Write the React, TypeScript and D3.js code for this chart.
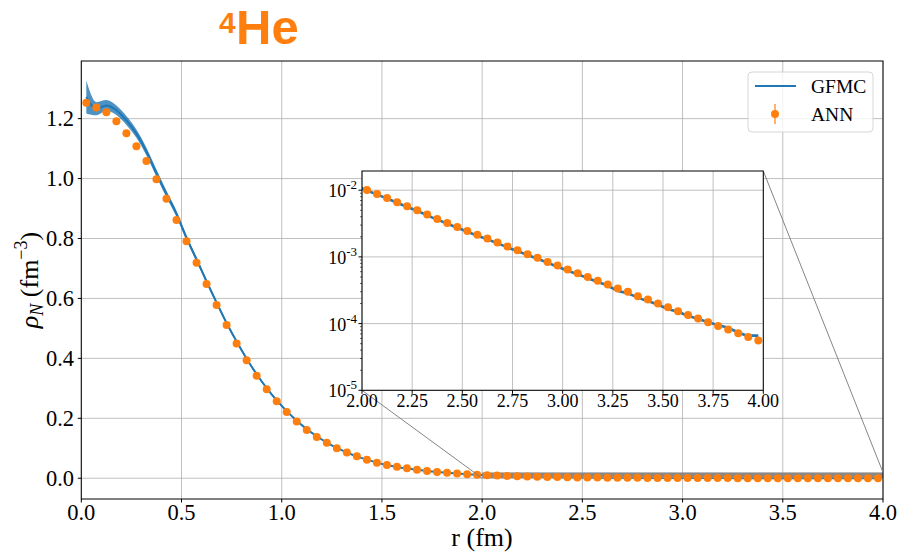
import React from "react";
import * as d3 from "d3";

// radial grid of the ANN points (fm)
const rPoints = d3.range(80).map((i) => +(0.025 + 0.05 * i).toFixed(3));

// ANN density (fm^-3)
const annValues = [
  1.253, 1.237, 1.221, 1.191, 1.151, 1.108, 1.059, 0.998, 0.933, 0.862,
  0.791, 0.719, 0.648, 0.578, 0.511, 0.45, 0.394, 0.342, 0.297, 0.257,
  0.221, 0.189, 0.161, 0.138, 0.118, 0.1, 0.086, 0.073, 0.062, 0.052,
  0.044, 0.038, 0.033, 0.0285, 0.0245, 0.021, 0.018, 0.0155, 0.0134, 0.0116,
  0.0101, 0.0088, 0.00767, 0.0066, 0.00575, 0.005, 0.00432, 0.00371, 0.00323, 0.00281,
  0.00245, 0.00214, 0.00189, 0.00164, 0.00143, 0.00126, 0.0011, 0.00097, 0.00084, 0.00074,
  0.00065, 0.00057, 0.0005, 0.00044, 0.000385, 0.000335, 0.000299, 0.000257, 0.000229, 0.0002,
  0.000176, 0.000153, 0.000135, 0.000119, 0.000105, 0.0000922, 0.0000813, 0.0000716, 0.0000631, 0.0000556,
];

// GFMC density and its statistical error
const gfmcValues = [
  1.272, 1.233, 1.244, 1.228, 1.194, 1.15, 1.09, 1.018, 0.948, 0.882,
  0.802, 0.73, 0.657, 0.586, 0.518, 0.456, 0.399, 0.347, 0.301, 0.26,
  0.224, 0.192, 0.164, 0.14, 0.119, 0.101, 0.086, 0.073, 0.062, 0.052,
  0.044, 0.0375, 0.0325, 0.0282, 0.0243, 0.0209, 0.018, 0.0155, 0.0134, 0.0116,
  0.0099, 0.0086, 0.0075, 0.0065, 0.0056, 0.0049, 0.0042, 0.00362, 0.00315, 0.00274,
  0.00238, 0.00208, 0.00183, 0.0016, 0.00139, 0.00122, 0.00107, 0.00094, 0.00082, 0.00071,
  0.00062, 0.00055, 0.00048, 0.00042, 0.00037, 0.00031, 0.000285, 0.000245, 0.000218, 0.000192,
  0.000166, 0.00015, 0.000131, 0.000117, 0.000105, 0.000095, 0.000086, 0.000074, 0.000066, 0.000066,
];
const gfmcErrors = [
  0.055, 0.022, 0.018, 0.016, 0.015, 0.014, 0.013, 0.012, 0.011, 0.01,
  0.009, 0.008, 0.007, 0.006, 0.005, 0.005, 0.004, 0.004, 0.003, 0.003,
  0.003, 0.002, 0.002, 0.002, 0.002, 0.002, 0.001, 0.001, 0.001, 0.001,
  0.001, 0.001, 0.001, 0.001, 0.001, 0.001, 0.001, 0.001, 0.001, 0.001,
  0.001, 0.001, 0.001, 0.001, 0.001, 0.001, 0.001, 0.001, 0.001, 0.001,
  0.001, 0.001, 0.001, 0.001, 0.001, 0.001, 0.001, 0.001, 0.001, 0.001,
  0.001, 0.001, 0.001, 0.001, 0.001, 0.001, 0.001, 0.001, 0.001, 0.001,
  0.001, 0.001, 0.001, 0.001, 0.001, 0.001, 0.001, 0.001, 0.001, 0.001,
];

const xTicks = [0, 0.5, 1, 1.5, 2, 2.5, 3, 3.5, 4];
const yTicks = [0, 0.2, 0.4, 0.6, 0.8, 1.0, 1.2];
const insetXTicks = [2, 2.25, 2.5, 2.75, 3, 3.25, 3.5, 3.75, 4];
const insetYExponents = [-5, -4, -3, -2];

const BLUE = "#1f77b4";
const ORANGE = "#ff7f0e";
const GRID = "#b0b0b0";
const SERIF = "'Liberation Serif', 'Times New Roman', serif";

export default function App() {
  const M = { left: 81.3, right: 883, top: 61, bottom: 499 };
  const I = { left: 362, right: 763.3, top: 171, bottom: 390.3 };

  const x = d3.scaleLinear().domain([0, 4]).range([M.left, M.right]);
  const y = d3.scaleLinear().domain([-0.0693, 1.3923]).range([M.bottom, M.top]);
  const ix = d3.scaleLinear().domain([2, 4]).range([I.left, I.right]);
  const iy = d3.scaleLog().domain([1e-5, 0.0194]).range([I.bottom, I.top]);

  const idx = d3.range(rPoints.length);
  const line = d3
    .line<number>()
    .x((i) => x(rPoints[i]))
    .y((i) => y(gfmcValues[i]))
    .curve(d3.curveMonotoneX);
  const band = d3
    .area<number>()
    .x((i) => x(rPoints[i]))
    .y0((i) => y(gfmcValues[i] - gfmcErrors[i]))
    .y1((i) => y(gfmcValues[i] + gfmcErrors[i]))
    .curve(d3.curveMonotoneX);
  const insetIdx = idx.filter((i) => rPoints[i] > 1.9);
  const insetLine = d3
    .line<number>()
    .x((i) => ix(rPoints[i]))
    .y((i) => iy(gfmcValues[i]))
    .curve(d3.curveMonotoneX);

  // minor log ticks on the inset y axis
  const minorTicks: number[] = [];
  insetYExponents.forEach((e) => {
    for (let k = 2; k <= 9; k++) minorTicks.push(k * Math.pow(10, e));
  });

  return (
    <svg width={900} height={552} style={{ display: "block", position: "absolute", left: 0, top: 0 }}>
      <defs>
        <clipPath id="mainClip">
          <rect x={M.left} y={M.top} width={M.right - M.left} height={M.bottom - M.top} />
        </clipPath>
        <clipPath id="insetClip">
          <rect x={I.left} y={I.top} width={I.right - I.left} height={I.bottom - I.top} />
        </clipPath>
      </defs>
      <rect width={900} height={552} fill="#fff" />

      {/* title */}
      <text fontFamily="'Liberation Sans', Arial, sans-serif" fontWeight="bold" fill={ORANGE}>
        <tspan x={219} y={33} fontSize={30}>4</tspan>
        <tspan x={236} y={44} fontSize={49}>He</tspan>
      </text>

      {/* main grid */}
      <g stroke={GRID} strokeWidth={0.8}>
        {xTicks.map((t) => (
          <line key={"gx" + t} x1={x(t)} x2={x(t)} y1={M.top} y2={M.bottom} />
        ))}
        {yTicks.map((t) => (
          <line key={"gy" + t} x1={M.left} x2={M.right} y1={y(t)} y2={y(t)} />
        ))}
      </g>

      <g clipPath="url(#mainClip)">
        <path d={band(idx) || ""} fill={BLUE} fillOpacity={0.8} />
        <path d={line(idx) || ""} fill="none" stroke={BLUE} strokeWidth={2} />
        <rect
          x={x(2)}
          y={y(0.0194)}
          width={x(4) - x(2)}
          height={y(1e-5) - y(0.0194)}
          fill="#888"
        />
        {idx.map((i) => (
          <circle key={"d" + i} cx={x(rPoints[i])} cy={y(annValues[i])} r={4} fill={ORANGE} />
        ))}
      </g>

      {/* main frame and ticks */}
      <rect x={M.left} y={M.top} width={M.right - M.left} height={M.bottom - M.top} fill="none" stroke="#000" strokeWidth={1} />
      <g fontFamily={SERIF} fontSize={22.5} fill="#000">
        {xTicks.map((t) => (
          <g key={"xt" + t}>
            <line x1={x(t)} x2={x(t)} y1={M.bottom} y2={M.bottom + 3.5} stroke="#000" />
            <text x={x(t)} y={520} textAnchor="middle">{d3.format(".1f")(t)}</text>
          </g>
        ))}
        {yTicks.map((t) => (
          <g key={"yt" + t}>
            <line x1={M.left - 3.5} x2={M.left} y1={y(t)} y2={y(t)} stroke="#000" />
            <text x={74} y={y(t) + 7.5} textAnchor="end">{d3.format(".1f")(t)}</text>
          </g>
        ))}
      </g>
      <text x={482} y={546} textAnchor="middle" fontFamily={SERIF} fontSize={26}>r (fm)</text>
      <text
        transform={`translate(38,${(M.top + M.bottom) / 2}) rotate(-90)`}
        textAnchor="middle"
        fontFamily={SERIF}
        fontSize={26}
      >
        <tspan fontStyle="italic">ρ</tspan>
        <tspan fontStyle="italic" fontSize={18} dy={5}>N</tspan>
        <tspan dy={-5}> (fm</tspan>
        <tspan fontSize={18} dy={-11}>−3</tspan>
        <tspan dy={11}>)</tspan>
      </text>

      {/* zoom connectors */}
      <g stroke="#777" strokeWidth={0.9}>
        <line x1={I.left} y1={I.bottom} x2={x(2)} y2={y(1e-5)} />
        <line x1={I.right} y1={I.top} x2={x(4)} y2={y(0.0194)} />
      </g>

      {/* inset */}
      <rect x={I.left} y={I.top} width={I.right - I.left} height={I.bottom - I.top} fill="#fff" />
      <g stroke={GRID} strokeWidth={0.8}>
        {insetXTicks.map((t) => (
          <line key={"igx" + t} x1={ix(t)} x2={ix(t)} y1={I.top} y2={I.bottom} />
        ))}
        {insetYExponents.map((e) => (
          <line key={"igy" + e} x1={I.left} x2={I.right} y1={iy(Math.pow(10, e))} y2={iy(Math.pow(10, e))} />
        ))}
      </g>
      <g clipPath="url(#insetClip)">
        <path d={insetLine(insetIdx) || ""} fill="none" stroke={BLUE} strokeWidth={2.6} />
        {idx
          .filter((i) => rPoints[i] > 2)
          .map((i) => (
            <circle key={"id" + i} cx={ix(rPoints[i])} cy={iy(annValues[i])} r={4} fill={ORANGE} />
          ))}
      </g>
      <rect x={I.left} y={I.top} width={I.right - I.left} height={I.bottom - I.top} fill="none" stroke="#000" strokeWidth={1} />
      <g fontFamily={SERIF} fontSize={18} fill="#000">
        {insetXTicks.map((t) => (
          <g key={"ixt" + t}>
            <line x1={ix(t)} x2={ix(t)} y1={I.bottom} y2={I.bottom + 3.5} stroke="#000" />
            <text x={ix(t)} y={I.bottom + 17} textAnchor="middle">{d3.format(".2f")(t)}</text>
          </g>
        ))}
        {minorTicks
          .filter((v) => v < 0.0194)
          .map((v) => (
            <line key={"mt" + v} x1={I.left - 2} x2={I.left} y1={iy(v)} y2={iy(v)} stroke="#000" strokeWidth={0.6} />
          ))}
        {insetYExponents.map((e) => (
          <g key={"iyt" + e}>
            <line x1={I.left - 3.5} x2={I.left} y1={iy(Math.pow(10, e))} y2={iy(Math.pow(10, e))} stroke="#000" />
            <text x={357} y={iy(Math.pow(10, e)) + 7} textAnchor="end">
              10
              <tspan fontSize={13} dy={-8}>{"-" + Math.abs(e)}</tspan>
            </text>
          </g>
        ))}
      </g>

      {/* legend */}
      <rect x={748} y={72} width={125} height={60} rx={4} fill="#fff" fillOpacity={0.8} stroke="#ccc" strokeWidth={0.8} />
      <line x1={755} x2={796} y1={86} y2={86} stroke={BLUE} strokeWidth={2} />
      <line x1={775} x2={775} y1={104} y2={124} stroke={ORANGE} strokeOpacity={0.6} strokeWidth={2} />
      <circle cx={775} cy={114} r={4} fill={ORANGE} />
      <g fontFamily={SERIF} fontSize={19.5} fill="#000">
        <text x={811} y={93}>GFMC</text>
        <text x={811} y={121}>ANN</text>
      </g>
    </svg>
  );
}
